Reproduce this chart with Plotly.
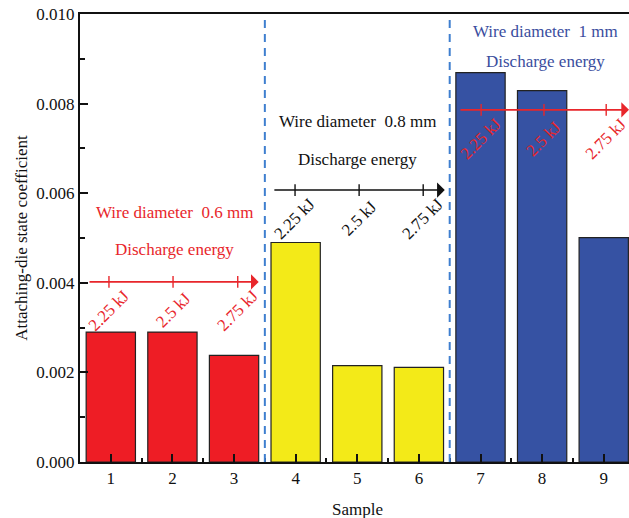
import plotly.graph_objects as go

samples = [1, 2, 3, 4, 5, 6, 7, 8, 9]
coefficients = [0.00290, 0.00290, 0.00238, 0.00490, 0.00215, 0.00211, 0.00869, 0.00829, 0.00501]
bar_colors = ["#ee1d25"] * 3 + ["#f3ea18"] * 3 + ["#3652a3"] * 3

energy_labels = ["2.25 kJ", "2.5 kJ", "2.75 kJ"]
groups = [
    dict(wire="Wire diameter  0.6 mm", wy=0.00558, dy=0.00475, cx=2.03, ay=0.00402,
         ax0=0.63, ax1=3.40, ticks=[0.97, 2.01, 3.06], tc="#e8262b", ac="#e8262b", lc="#e8262b"),
    dict(wire="Wire diameter  0.8 mm", wy=0.00759, dy=0.00676, cx=5.01, ay=0.00607,
         ax0=3.63, ax1=6.42, ticks=[3.99, 5.03, 6.07], tc="#111111", ac="#111111", lc="#111111"),
    dict(wire="Wire diameter  1 mm", wy=0.00960, dy=0.00893, cx=8.05, ay=0.00786,
         ax0=6.65, ax1=9.41, ticks=[7.01, 8.03, 9.04], tc="#3a4d9e", ac="#e8262b", lc="#e8262b"),
]
separators = [3.5, 6.5]

FONT = "Liberation Serif"

fig = go.Figure()
fig.add_trace(go.Bar(
    x=samples, y=coefficients, width=0.8,
    marker=dict(color=bar_colors, line=dict(color="#222222", width=1.2)),
    showlegend=False,
))

shapes = []
annotations = []
for s in separators:
    shapes.append(dict(type="line", xref="x", yref="paper", x0=s, x1=s, y0=0, y1=1,
                       line=dict(color="#3f7fcf", width=2, dash="8px,6px")))

tick_half = 0.00013
label_off = 0.00064
for g in groups:
    annotations.append(dict(x=g["cx"], y=g["wy"], xref="x", yref="y", text=g["wire"], showarrow=False,
                            font=dict(family=FONT, size=17, color=g["tc"]), xanchor="center", yanchor="middle"))
    annotations.append(dict(x=g["cx"], y=g["dy"], xref="x", yref="y", text="Discharge energy", showarrow=False,
                            font=dict(family=FONT, size=17, color=g["tc"]), xanchor="center", yanchor="middle"))
    annotations.append(dict(x=g["ax1"], y=g["ay"], ax=g["ax0"], ay=g["ay"], xref="x", yref="y",
                            axref="x", ayref="y", text="", showarrow=True, arrowhead=1, arrowsize=1.6,
                            arrowwidth=1.6, arrowcolor=g["ac"], standoff=0))
    for t, lab in zip(g["ticks"], energy_labels):
        shapes.append(dict(type="line", xref="x", yref="y", x0=t, x1=t,
                           y0=g["ay"] - tick_half, y1=g["ay"] + tick_half,
                           line=dict(color=g["ac"], width=1.4)))
        annotations.append(dict(x=t, y=g["ay"] - label_off, xref="x", yref="y", text=lab, showarrow=False,
                                textangle=-45, font=dict(family=FONT, size=17, color=g["lc"]),
                                xanchor="center", yanchor="middle"))

annotations.append(dict(x=(357 - 80) / (629 - 80), y=-0.105, xref="paper", yref="paper", text="Sample",
                        showarrow=False, font=dict(family=FONT, size=17, color="#111111"),
                        xanchor="center", yanchor="middle"))
annotations.append(dict(x=-0.108, y=0.5, xref="paper", yref="paper", text="Attaching-die state coefficient",
                        showarrow=False, textangle=-90, font=dict(family=FONT, size=17, color="#111111"),
                        xanchor="center", yanchor="middle"))

fig.update_layout(
    width=629, height=518,
    margin=dict(l=80, r=0, t=14, b=56),
    paper_bgcolor="white", plot_bgcolor="white",
    font=dict(family=FONT, size=17, color="#111111"),
    shapes=shapes, annotations=annotations,
    xaxis=dict(range=[0.5, 9.41], tickmode="array", tickvals=samples, ticktext=[str(s) for s in samples],
               ticks="inside", ticklen=8, tickwidth=1.5, tickcolor="#111111",
               minor=dict(tickvals=[1.5, 2.5, 3.5, 4.5, 5.5, 6.5, 7.5, 8.5], ticks="inside", ticklen=4,
                          tickwidth=1.5, tickcolor="#111111"),
               showline=True, linecolor="#111111", linewidth=2, mirror=True,
               showgrid=False, zeroline=False, tickfont=dict(family=FONT, size=17)),
    yaxis=dict(range=[0, 0.010], tickmode="array", tickvals=[0, 0.002, 0.004, 0.006, 0.008, 0.010],
               ticktext=["0.000", "0.002", "0.004", "0.006", "0.008", "0.010"],
               ticks="inside", ticklen=8, tickwidth=1.5, tickcolor="#111111",
               minor=dict(tickvals=[0.001, 0.003, 0.005, 0.007, 0.009], ticks="inside", ticklen=5,
                          tickwidth=1.5, tickcolor="#111111"),
               showline=True, linecolor="#111111", linewidth=2, mirror=False,
               showgrid=False, zeroline=False, tickfont=dict(family=FONT, size=17)),
)

fig.write_html("out.html")
